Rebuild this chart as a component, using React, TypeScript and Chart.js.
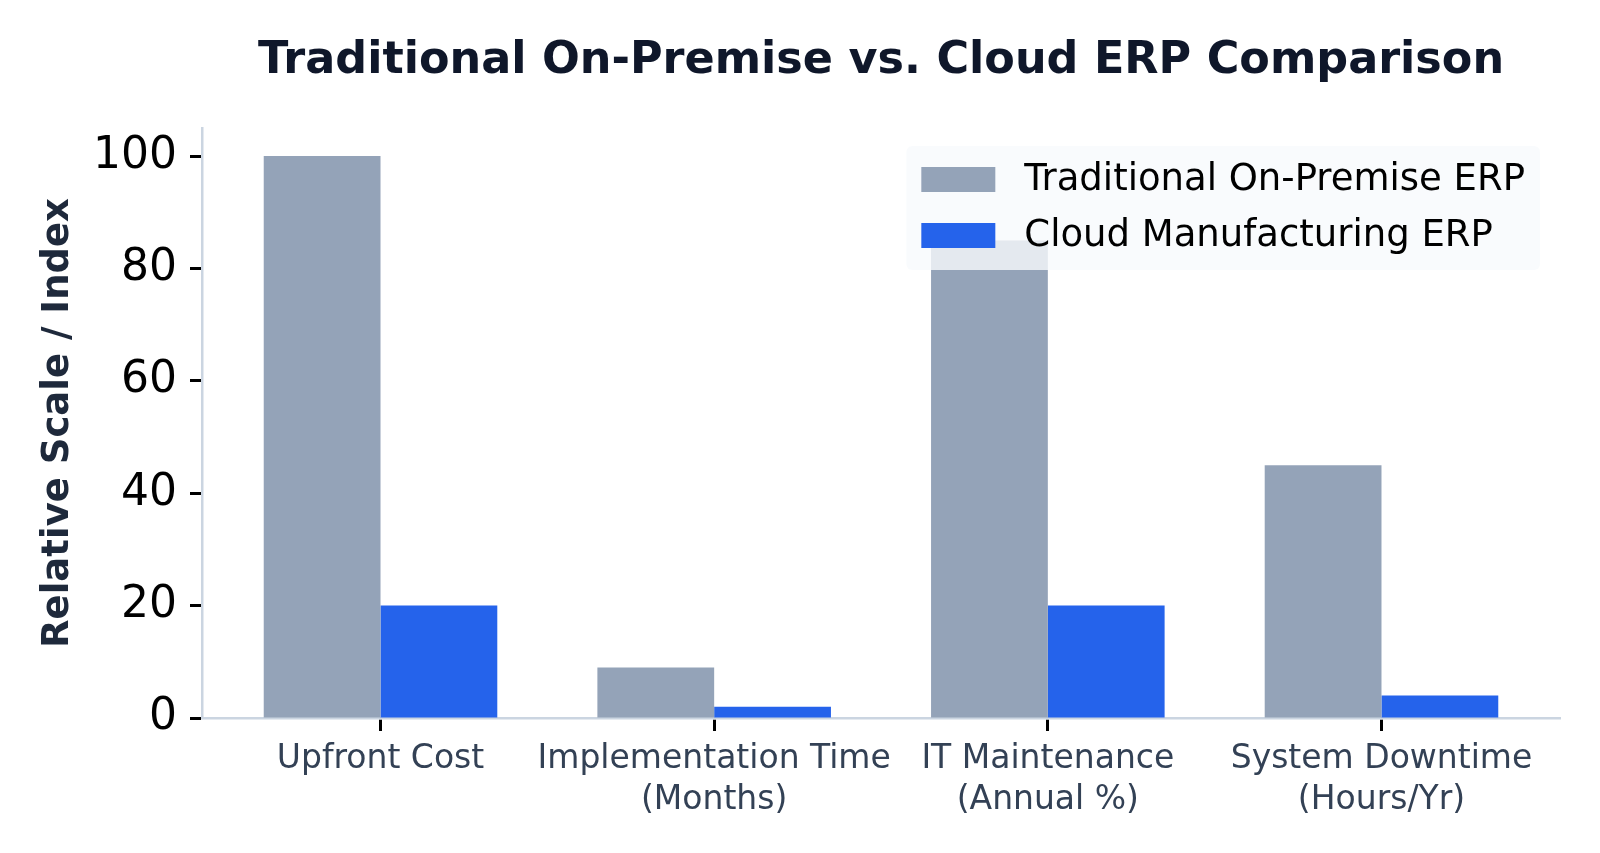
import React, { useEffect, useRef } from 'react';
import { Chart, registerables } from 'chart.js';

Chart.register(...registerables);

const categories: string[][] = [
  ['Upfront Cost'],
  ['Implementation Time', '(Months)'],
  ['IT Maintenance', '(Annual %)'],
  ['System Downtime', '(Hours/Yr)'],
];
const traditionalValues = [100, 9, 85, 45];
const cloudValues = [20, 2, 20, 4];
const yTickValues = [0, 20, 40, 60, 80, 100];
const seriesLabels = ['Traditional On-Premise ERP', 'Cloud Manufacturing ERP'];
const seriesColors = ['#94a3b8', '#2563eb'];
const titleText = 'Traditional On-Premise vs. Cloud ERP Comparison';
const yAxisTitle = 'Relative Scale / Index';

const FONT = '"DejaVu Sans", "Noto Sans", sans-serif';

const titlePlugin = {
  id: 'customTitle',
  afterDraw(chart: any) {
    const { ctx, chartArea } = chart;
    ctx.save();
    ctx.font = `bold 44.5px ${FONT}`;
    ctx.fillStyle = '#0f172a';
    ctx.textAlign = 'center';
    ctx.textBaseline = 'alphabetic';
    ctx.fillText(titleText, (chartArea.left + chartArea.right) / 2, 73);
    ctx.restore();
  },
};

const legendPlugin = {
  id: 'insideLegend',
  afterDatasetsDraw(chart: any) {
    const { ctx, chartArea } = chart;
    const datasets = chart.data.datasets;
    ctx.save();
    ctx.font = `37px ${FONT}`;
    const textW = Math.max(...datasets.map((d: any) => ctx.measureText(d.label).width));
    const padX = 15;
    const swW = 74;
    const swH = 25;
    const gap = 29;
    const rowH = 56;
    const boxW = padX + swW + gap + textW + padX;
    const boxH = 124;
    const right = chartArea.right - 20;
    const left = right - boxW;
    const top = chartArea.top + 18;
    ctx.fillStyle = 'rgba(248,250,252,0.8)';
    ctx.beginPath();
    (ctx as any).roundRect(left, top, boxW, boxH, 6);
    ctx.fill();
    datasets.forEach((d: any, i: number) => {
      const cy = top + 33.5 + i * rowH;
      ctx.fillStyle = d.backgroundColor;
      ctx.fillRect(left + padX, cy - swH / 2, swW, swH);
      ctx.fillStyle = '#000000';
      ctx.textAlign = 'left';
      ctx.textBaseline = 'middle';
      ctx.fillText(d.label, left + padX + swW + gap, cy + 1);
    });
    ctx.restore();
  },
};

export default function App() {
  const canvasRef = useRef<HTMLCanvasElement | null>(null);

  useEffect(() => {
    if (!canvasRef.current) return;
    const seriesValues = [traditionalValues, cloudValues];
    const chart = new Chart(canvasRef.current, {
      type: 'bar',
      data: {
        datasets: seriesValues.map((vals, si) => ({
          label: seriesLabels[si],
          data: vals.map((v, i) => ({ x: i, y: v })),
          backgroundColor: seriesColors[si],
          borderWidth: 0,
          categoryPercentage: 0.7,
          barPercentage: 1.0,
        })),
      },
      plugins: [titlePlugin, legendPlugin],
      options: {
        animation: false,
        responsive: false,
        devicePixelRatio: 1,
        layout: { padding: { top: 128, right: 40, bottom: 0, left: 0 } },
        plugins: {
          legend: { display: false },
          tooltip: { enabled: false },
          title: { display: false },
        },
        scales: {
          x: {
            type: 'linear',
            min: -0.535,
            max: 3.535,
            offset: false,
            grid: {
              display: true,
              offset: false,
              drawOnChartArea: false,
              drawTicks: true,
              tickLength: 13,
              tickWidth: 3,
              tickColor: '#000000',
            },
            border: { display: true, color: '#cbd5e1', width: 2.5 },
            ticks: {
              font: { family: FONT, size: 33, lineHeight: 1.24 },
              color: '#334155',
              padding: 8,
              maxRotation: 0,
              minRotation: 0,
              autoSkip: false,
              callback: (v: any) => categories[Math.round(Number(v))] ?? '',
            },
            afterBuildTicks: (axis: any) => {
              axis.ticks = categories.map((_, i) => ({ value: i }));
            },
            afterFit: (scale: any) => {
              scale.height = 853 - 718;
            },
          },
          y: {
            type: 'linear',
            min: 0,
            max: 105,
            grid: {
              display: true,
              offset: false,
              drawOnChartArea: false,
              drawTicks: true,
              tickLength: 12,
              tickWidth: 3,
              tickColor: '#000000',
            },
            border: { display: true, color: '#cbd5e1', width: 2.5 },
            ticks: {
              font: { family: FONT, size: 44 },
              color: '#000000',
              padding: 13,
            },
            afterBuildTicks: (axis: any) => {
              axis.ticks = yTickValues.map((v) => ({ value: v }));
            },
            title: {
              display: true,
              text: yAxisTitle,
              font: { family: FONT, size: 37, weight: 'bold' },
              color: '#1e293b',
              padding: { top: 36, bottom: 0 },
            },
            afterFit: (scale: any) => {
              scale.width = 202;
            },
          },
        },
      } as any,
    });
    return () => chart.destroy();
  }, []);

  return (
    <canvas
      ref={canvasRef}
      width={1600}
      height={853}
      style={{ position: 'fixed', left: 0, top: 0, width: '1600px', height: '853px' }}
    />
  );
}
